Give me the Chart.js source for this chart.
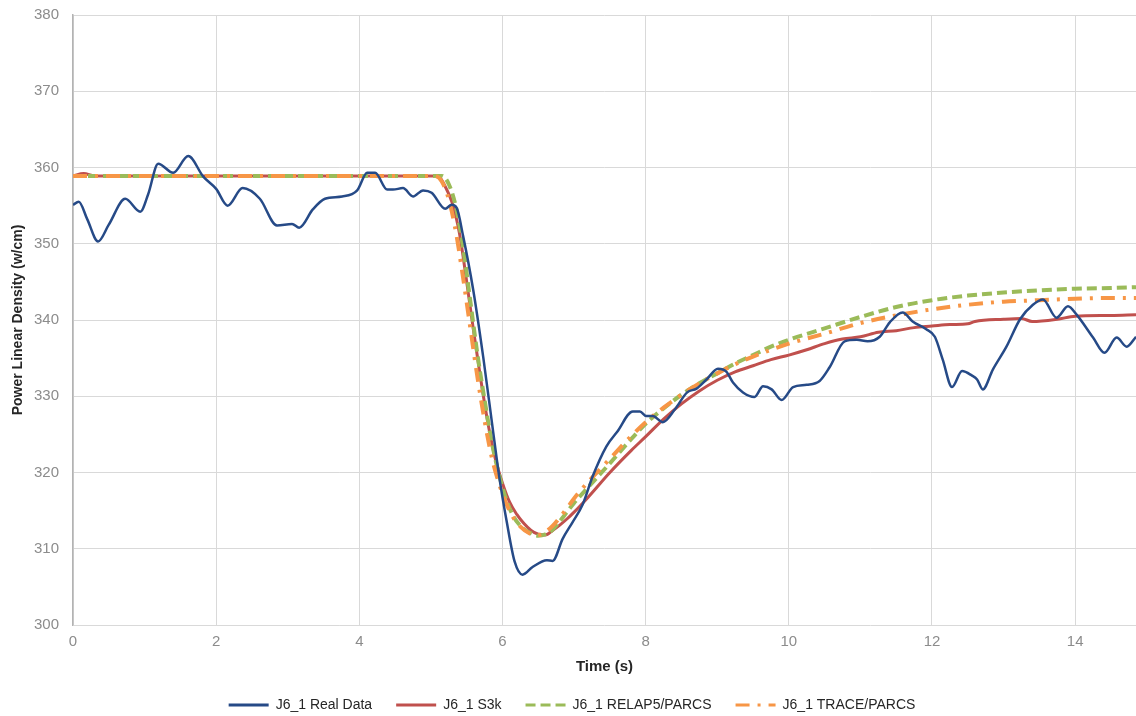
<!DOCTYPE html>
<html>
<head>
    <title>Power Linear Density</title>
    <meta charset="utf-8">
    <script src="https://cdn.jsdelivr.net/npm/chart.js@4.4.0/dist/chart.umd.min.js"></script>
    <style>
        body { margin: 0; background: #fff; }
        #wrap { width: 1136px; height: 716px; }
    </style>
</head>
<body>
<div id="wrap"><canvas id="myChart" width="1136" height="716"></canvas></div>

<script>
// measured plant data
const realTime = [0, 0.08, 0.2, 0.35, 0.5, 0.73, 0.94, 1.05, 1.19, 1.40, 1.61, 1.82, 2.0, 2.16, 2.37, 2.61, 2.85, 3.06, 3.16, 3.35, 3.52, 3.76, 3.97, 4.11, 4.22, 4.39, 4.47, 4.61, 4.75, 4.89, 5.01, 5.20, 5.29, 5.36, 5.45, 5.59, 5.73, 5.87, 5.96, 6.06, 6.17, 6.28, 6.42, 6.62, 6.70, 6.84, 6.98, 7.12, 7.26, 7.45, 7.60, 7.82, 7.92, 8.01, 8.10, 8.24, 8.41, 8.58, 8.71, 8.85, 9.01, 9.13, 9.22, 9.36, 9.52, 9.64, 9.76, 9.90, 10.06, 10.25, 10.43, 10.57, 10.78, 10.95, 11.10, 11.27, 11.41, 11.59, 11.73, 11.92, 12.04, 12.15, 12.28, 12.42, 12.56, 12.63, 12.71, 12.85, 13.04, 13.23, 13.41, 13.55, 13.74, 13.90, 14.02, 14.25, 14.41, 14.58, 14.72, 14.85];
const realValues = [355.1, 355.5, 353.2, 350.3, 352.5, 355.9, 354.2, 356.5, 360.5, 359.3, 361.5, 358.8, 357.2, 355.0, 357.3, 355.9, 352.4, 352.6, 352.1, 354.5, 355.9, 356.2, 357.0, 359.3, 359.3, 357.1, 357.1, 357.3, 356.2, 357.0, 356.7, 354.6, 355.1, 354.7, 351.0, 344.0, 335.2, 325.3, 319.1, 313.5, 308.3, 306.6, 307.6, 308.5, 308.4, 311.3, 313.5, 315.8, 319.5, 323.4, 325.3, 328.0, 328.0, 327.4, 327.4, 326.6, 328.3, 330.5, 331.0, 332.2, 333.6, 333.2, 331.8, 330.5, 329.9, 331.3, 330.9, 329.5, 331.2, 331.5, 332.0, 333.8, 337.2, 337.4, 337.2, 337.8, 339.7, 341.0, 339.8, 338.8, 337.8, 334.8, 331.2, 333.3, 332.7, 332.2, 330.9, 333.5, 336.5, 340.1, 342.0, 342.7, 340.3, 341.8, 340.7, 337.7, 335.7, 337.7, 336.5, 337.8];

// S3k simulation
const s3kTime = [0, 0.15, 0.3, 5.1, 5.2, 5.3, 5.4, 5.5, 5.6, 5.7, 5.8, 5.9, 6.0, 6.1, 6.2, 6.3, 6.4, 6.5, 6.6, 6.7, 6.8, 6.9, 7.0, 7.2, 7.5, 7.8, 8.0, 8.25, 8.5, 8.75, 9.0, 9.25, 9.5, 9.75, 10.0, 10.25, 10.5, 10.75, 11.0, 11.25, 11.5, 11.75, 12.0, 12.25, 12.5, 12.6, 13.0, 13.25, 13.4, 13.75, 14.0, 14.5, 14.85];
const s3kValues = [358.9, 359.2, 358.9, 358.9, 357.5, 355.3, 351.3, 345.0, 338.3, 332.0, 326.3, 321.8, 318.6, 316.1, 314.5, 313.3, 312.4, 311.9, 311.8, 312.4, 313.1, 313.9, 314.8, 316.8, 320.0, 322.9, 324.7, 327.0, 329.0, 330.7, 332.1, 333.2, 334.0, 334.8, 335.4, 336.1, 336.9, 337.5, 337.8, 338.4, 338.6, 339.0, 339.2, 339.4, 339.5, 339.8, 340.1, 340.2, 339.8, 340.1, 340.5, 340.6, 340.7];

// RELAP5/PARCS simulation
const relapTime = [0, 5.15, 5.25, 5.35, 5.45, 5.55, 5.65, 5.75, 5.85, 5.95, 6.05, 6.15, 6.25, 6.38, 6.5, 6.6, 6.7, 6.8, 6.9, 7.0, 7.2, 7.5, 7.8, 8.0, 8.25, 8.5, 8.75, 9.0, 9.25, 9.5, 9.75, 10.0, 10.5, 11.0, 11.5, 12.0, 12.5, 13.0, 13.5, 14.0, 14.5, 14.85];
const relapValues = [358.9, 358.9, 357.8, 354.8, 349.5, 342.5, 335.5, 329.5, 324.0, 319.8, 316.5, 314.3, 313.0, 312.1, 311.7, 311.9, 312.5, 313.6, 314.8, 316.0, 318.1, 321.2, 324.4, 326.4, 328.4, 330.2, 331.7, 333.0, 334.3, 335.4, 336.5, 337.4, 338.9, 340.4, 341.7, 342.6, 343.2, 343.6, 343.9, 344.1, 344.2, 344.3];

// TRACE/PARCS simulation
const traceTime = [0, 5.05, 5.15, 5.25, 5.35, 5.45, 5.55, 5.65, 5.75, 5.85, 5.95, 6.05, 6.15, 6.25, 6.38, 6.5, 6.6, 6.7, 6.8, 6.9, 7.0, 7.2, 7.5, 7.8, 8.0, 8.25, 8.5, 8.75, 9.0, 9.25, 9.5, 9.75, 10.0, 10.5, 11.0, 11.5, 12.0, 12.5, 13.0, 13.5, 14.0, 14.5, 14.85];
const traceValues = [358.9, 358.9, 358.2, 355.8, 351.5, 345.5, 339.0, 332.5, 326.8, 322.0, 318.6, 316.0, 314.1, 312.9, 312.0, 311.8, 312.2, 313.0, 314.1, 315.3, 316.6, 318.8, 321.8, 324.8, 326.6, 328.5, 330.2, 331.7, 333.0, 334.2, 335.2, 336.1, 336.9, 338.2, 339.6, 340.6, 341.4, 342.0, 342.4, 342.6, 342.8, 342.9, 342.9];

const seriesNames = ['J6_1 Real Data', 'J6_1 S3k', 'J6_1 RELAP5/PARCS', 'J6_1 TRACE/PARCS'];
const xTicks = [0, 2, 4, 6, 8, 10, 12, 14];
const yTicks = [300, 310, 320, 330, 340, 350, 360, 370, 380];

function toPoints(xs, ys) {
    return xs.map((x, i) => ({x: x, y: ys[i]}));
}

const FONT = "'Liberation Sans', Arial, sans-serif";

const ctx = document.getElementById('myChart').getContext('2d');
const myChart = new Chart(ctx, {
    type: 'line',
    data: {
        datasets: [{
            label: seriesNames[0],
            data: toPoints(realTime, realValues),
            borderColor: '#264a87',
            borderWidth: 2.5,
            order: 0
        }, {
            label: seriesNames[1],
            data: toPoints(s3kTime, s3kValues),
            borderColor: '#c0504d',
            borderWidth: 3,
            order: 3
        }, {
            label: seriesNames[2],
            data: toPoints(relapTime, relapValues),
            borderColor: '#9bbb59',
            borderWidth: 4,
            borderDash: [10, 5],
            order: 2
        }, {
            label: seriesNames[3],
            data: toPoints(traceTime, traceValues),
            borderColor: '#f79646',
            borderWidth: 4,
            borderDash: [14, 8, 3, 8],
            order: 1
        }]
    },
    options: {
        responsive: false,
        animation: false,
        elements: {
            point: { radius: 0 },
            line: { cubicInterpolationMode: 'monotone', fill: false }
        },
        layout: { padding: { left: 8, right: 0, top: 15, bottom: -6 } },
        scales: {
            x: {
                type: 'linear',
                min: 0,
                max: 14.85,
                afterBuildTicks: (axis) => { axis.ticks = xTicks.map(v => ({value: v})); },
                ticks: { color: '#8c8c8c', font: { family: FONT, size: 15, lineHeight: 1 }, padding: 9, maxRotation: 0 },
                grid: { color: '#d9d9d9', drawTicks: false },
                border: { display: false },
                title: { display: true, text: 'Time (s)', color: '#262626', font: { family: FONT, size: 15, weight: 'bold', lineHeight: 1 }, padding: { top: 1, bottom: 0 } }
            },
            y: {
                min: 300,
                max: 380,
                afterBuildTicks: (axis) => { axis.ticks = yTicks.map(v => ({value: v})); },
                // fixed axis width; the 380 label may sit in the top margin
                afterFit: (axis) => {
                    axis.width = 65;
                    axis.paddingTop = 0;
                    axis.paddingBottom = 0;
                },
                ticks: { color: '#8c8c8c', font: { family: FONT, size: 15 }, padding: 14 },
                grid: { color: '#d9d9d9', drawTicks: false },
                border: { color: '#b3b3b3', width: 1.5 },
                title: { display: true, text: 'Power Linear Density (w/cm)', color: '#262626', font: { family: FONT, size: 14, weight: 'bold' }, padding: { top: 2, bottom: 4 } }
            }
        },
        plugins: {
            legend: {
                position: 'bottom',
                labels: {
                    usePointStyle: true,
                    pointStyle: 'line',
                    pointStyleWidth: 40,
                    boxHeight: 4,
                    color: '#262626',
                    font: { family: FONT, size: 14 },
                    padding: 24,
                    // keep dataset order and carry the dash patterns into the legend samples
                    generateLabels: (chart) => {
                        const items = Chart.defaults.plugins.legend.labels.generateLabels(chart);
                        items.forEach(item => {
                            const ds = chart.data.datasets[item.datasetIndex];
                            item.lineDash = ds.borderDash || [];
                            item.lineWidth = 3;
                            item.strokeStyle = ds.borderColor;
                        });
                        return items.sort((a, b) => a.datasetIndex - b.datasetIndex);
                    }
                }
            },
            tooltip: { enabled: false }
        }
    }
});
</script>

</body>
</html>
